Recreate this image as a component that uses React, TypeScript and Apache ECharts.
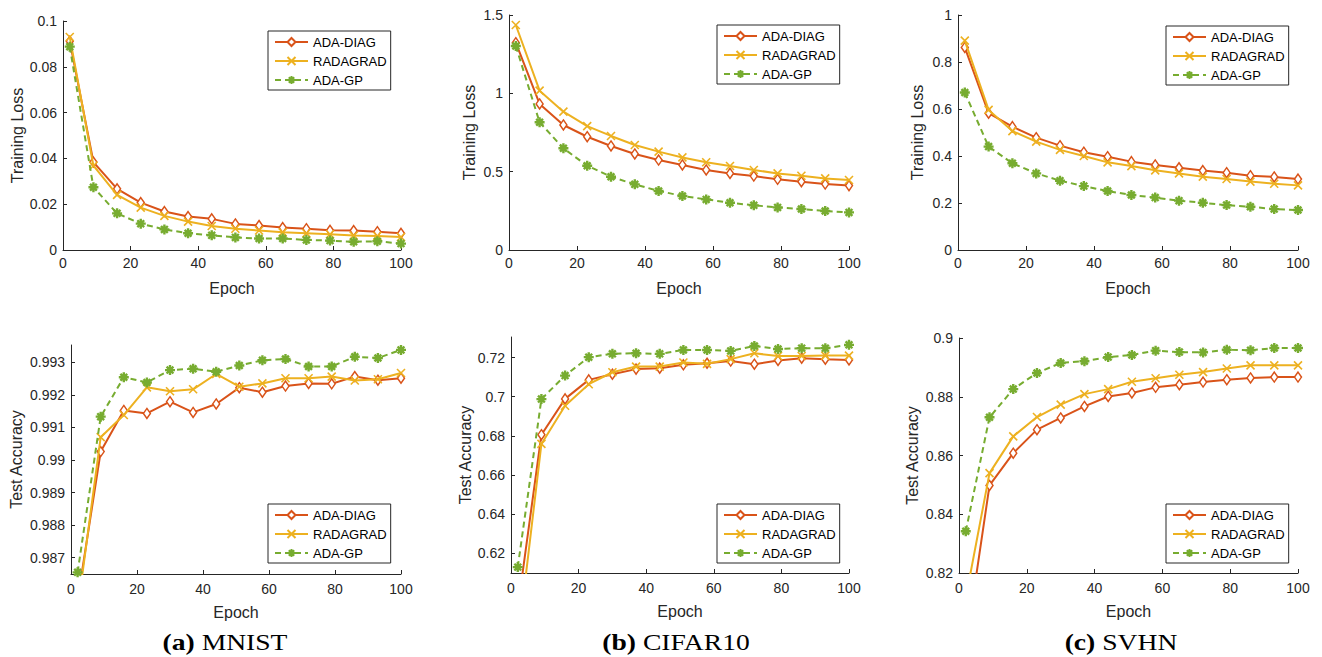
import React, { useEffect, useRef } from 'react';
import * as echarts from 'echarts';

// ---------- data ----------
const epochs = [2, 9, 16, 23, 30, 37, 44, 51, 58, 65, 72, 79, 86, 93, 100];
const legendNames = ['ADA-DIAG', 'RADAGRAD', 'ADA-GP'];
const epochTicks = [0, 20, 40, 60, 80, 100];

// (a) MNIST
const mnistLossDiag = [0.0912, 0.0384, 0.0267, 0.0207, 0.0168, 0.0146, 0.0136, 0.0114, 0.0107, 0.0098, 0.0093, 0.0086, 0.0085, 0.008, 0.0073];
const mnistLossRad = [0.093, 0.0368, 0.0241, 0.0185, 0.0149, 0.0124, 0.0105, 0.0093, 0.0085, 0.0077, 0.0073, 0.0069, 0.0063, 0.0061, 0.0057];
const mnistLossGp = [0.0888, 0.0274, 0.016, 0.0115, 0.009, 0.0073, 0.0064, 0.0055, 0.005, 0.005, 0.0044, 0.0041, 0.0036, 0.0038, 0.0028];
const mnistAccDiag = [0.9857, 0.99026, 0.99152, 0.99143, 0.99179, 0.99146, 0.99172, 0.99222, 0.99208, 0.99227, 0.99235, 0.99234, 0.99256, 0.99245, 0.99251];
const mnistAccRad = [0.9854, 0.9907, 0.99138, 0.99223, 0.99211, 0.99217, 0.99264, 0.99225, 0.99235, 0.99251, 0.99251, 0.99256, 0.99244, 0.99248, 0.99267];
const mnistAccGp = [0.98655, 0.99133, 0.99254, 0.99238, 0.99276, 0.9928, 0.99271, 0.9929, 0.99306, 0.9931, 0.99287, 0.99287, 0.99317, 0.99313, 0.99338];

// (b) CIFAR10
const cifarLossDiag = [1.323, 0.932, 0.798, 0.723, 0.664, 0.613, 0.574, 0.543, 0.511, 0.489, 0.472, 0.451, 0.436, 0.421, 0.411];
const cifarLossRad = [1.436, 1.017, 0.883, 0.791, 0.728, 0.67, 0.628, 0.591, 0.56, 0.536, 0.511, 0.489, 0.474, 0.457, 0.447];
const cifarLossGp = [1.302, 0.815, 0.649, 0.538, 0.468, 0.419, 0.377, 0.345, 0.323, 0.302, 0.285, 0.272, 0.262, 0.249, 0.24];
const cifarAccDiag = [0.592, 0.6806, 0.6989, 0.7086, 0.7115, 0.7141, 0.7146, 0.7163, 0.7171, 0.7182, 0.7166, 0.7185, 0.7197, 0.7192, 0.7188];
const cifarAccRad = [0.574, 0.6759, 0.6954, 0.7064, 0.7125, 0.7154, 0.7154, 0.7175, 0.7168, 0.7192, 0.7222, 0.7208, 0.7208, 0.721, 0.721];
const cifarAccGp = [0.613, 0.6988, 0.7108, 0.7202, 0.7219, 0.7222, 0.7219, 0.7239, 0.7239, 0.7234, 0.7259, 0.7244, 0.7248, 0.7248, 0.7265];

// (c) SVHN
const svhnLossDiag = [0.862, 0.582, 0.525, 0.478, 0.444, 0.416, 0.397, 0.376, 0.362, 0.35, 0.338, 0.329, 0.316, 0.311, 0.302];
const svhnLossRad = [0.891, 0.596, 0.506, 0.461, 0.426, 0.4, 0.373, 0.357, 0.339, 0.326, 0.312, 0.302, 0.291, 0.282, 0.275];
const svhnLossGp = [0.67, 0.44, 0.369, 0.326, 0.295, 0.272, 0.251, 0.234, 0.223, 0.21, 0.201, 0.191, 0.184, 0.174, 0.17];
const svhnAccDiag = [0.795, 0.8498, 0.8608, 0.8688, 0.8728, 0.8767, 0.8801, 0.8813, 0.8832, 0.8841, 0.885, 0.8858, 0.8864, 0.8867, 0.8867];
const svhnAccRad = [0.8115, 0.854, 0.8665, 0.8731, 0.8773, 0.8809, 0.8826, 0.8851, 0.8863, 0.8875, 0.8884, 0.8896, 0.8907, 0.8907, 0.8907];
const svhnAccGp = [0.8342, 0.873, 0.8826, 0.8881, 0.8915, 0.8921, 0.8935, 0.8942, 0.8957, 0.8952, 0.8951, 0.896, 0.8958, 0.8966, 0.8966];

// tick labels
const mnistLossTicks = [0, 0.02, 0.04, 0.06, 0.08, 0.1];
const cifarLossTicks = [0, 0.5, 1, 1.5];
const svhnLossTicks = [0, 0.2, 0.4, 0.6, 0.8, 1];
const mnistAccTicks = [0.987, 0.988, 0.989, 0.99, 0.991, 0.992, 0.993];
const cifarAccTicks = [0.62, 0.64, 0.66, 0.68, 0.7, 0.72];
const svhnAccTicks = [0.82, 0.84, 0.86, 0.88, 0.9];

const captions = ['(a)', '(b)', '(c)'];
const datasetNames = ['MNIST', 'CIFAR10', 'SVHN'];

// ---------- layout / style ----------
const FONT = 'Liberation Sans, Arial, Helvetica, sans-serif';
const AX = '#262626';
const COLORS = ['#D95319', '#EDB120', '#77AC30'];

const panels = [
  { grid: { left: 63, top: 21, width: 338, height: 229 }, yMin: 0, yMax: 0.1, ticks: mnistLossTicks, yName: 'Training Loss', nameGap: 38, legend: { left: 268, top: 31 }, data: [mnistLossDiag, mnistLossRad, mnistLossGp] },
  { grid: { left: 509, top: 15, width: 340, height: 235 }, yMin: 0, yMax: 1.5, ticks: cifarLossTicks, yName: 'Training Loss', nameGap: 32, legend: { left: 717, top: 25 }, data: [cifarLossDiag, cifarLossRad, cifarLossGp] },
  { grid: { left: 958, top: 15, width: 340, height: 235 }, yMin: 0, yMax: 1, ticks: svhnLossTicks, yName: 'Training Loss', nameGap: 33, legend: { left: 1166, top: 26 }, data: [svhnLossDiag, svhnLossRad, svhnLossGp] },
  { grid: { left: 71, top: 345, width: 330, height: 229 }, yMin: 0.9865, yMax: 0.99353, ticks: mnistAccTicks, yName: 'Test Accuracy', nameGap: 47, legend: { left: 268, top: 504 }, data: [mnistAccDiag, mnistAccRad, mnistAccGp] },
  { grid: { left: 511, top: 337, width: 338, height: 236 }, yMin: 0.61, yMax: 0.7305, ticks: cifarAccTicks, yName: 'Test Accuracy', nameGap: 38, legend: { left: 717, top: 504 }, data: [cifarAccDiag, cifarAccRad, cifarAccGp] },
  { grid: { left: 959, top: 338, width: 339, height: 235 }, yMin: 0.82, yMax: 0.9, ticks: svhnAccTicks, yName: 'Test Accuracy', nameGap: 39, legend: { left: 1166, top: 504 }, data: [svhnAccDiag, svhnAccRad, svhnAccGp] },
];

const captionCenters = [225, 676, 1121];

const fmt = (v: number) => String(parseFloat(Number(v).toFixed(6)));

const X_PATH = 'path://M0,0L10,10M10,0L0,10';
const STAR_PATH = 'path://M5,0L5,10M0,5L10,5M1.6,1.6L8.4,8.4M8.4,1.6L1.6,8.4';

function seriesStyle(k: number) {
  if (k === 0) {
    return {
      symbol: 'diamond',
      symbolSize: [7, 10],
      lineStyle: { color: COLORS[0], width: 2 },
      itemStyle: { color: '#ffffff', borderColor: COLORS[0], borderWidth: 1.5 },
    };
  }
  if (k === 1) {
    return {
      symbol: X_PATH,
      symbolSize: 8,
      lineStyle: { color: COLORS[1], width: 2 },
      itemStyle: { color: COLORS[1], borderColor: COLORS[1], borderWidth: 1.6 },
    };
  }
  return {
    symbol: STAR_PATH,
    symbolSize: 10,
    lineStyle: { color: COLORS[2], width: 2, type: [6, 4] },
    itemStyle: { color: COLORS[2], borderColor: COLORS[2], borderWidth: 2.4 },
  };
}

export default function App() {
  const ref = useRef<HTMLDivElement>(null);

  useEffect(() => {
    if (!ref.current) return;
    const chart = echarts.init(ref.current, null, { renderer: 'svg' });

    const grid: any[] = [];
    const xAxis: any[] = [];
    const yAxis: any[] = [];
    const legend: any[] = [];
    const series: any[] = [];

    panels.forEach((p, i) => {
      grid.push({ ...p.grid, containLabel: false, outerBoundsMode: 'none' });
      xAxis.push({
        gridIndex: i,
        type: 'value',
        min: 0,
        max: 100,
        interval: 20,
        name: 'Epoch',
        nameLocation: 'middle',
        nameGap: 30,
        nameTextStyle: { fontFamily: FONT, fontSize: 16, color: AX },
        axisLine: { show: true, onZero: false, lineStyle: { color: AX, width: 1 } },
        axisTick: { show: true, inside: true, length: 4, lineStyle: { color: AX }, customValues: epochTicks },
        axisLabel: { fontFamily: FONT, fontSize: 14, color: AX, margin: i < 3 ? 6 : 8, formatter: fmt, customValues: epochTicks },
        splitLine: { show: false },
      });
      const step = p.ticks[1] - p.ticks[0];
      yAxis.push({
        gridIndex: i,
        type: 'value',
        min: p.yMin,
        max: p.yMax,
        minInterval: step,
        maxInterval: step,
        name: p.yName,
        nameLocation: 'middle',
        nameGap: p.nameGap,
        nameTextStyle: { fontFamily: FONT, fontSize: 16, color: AX },
        axisLine: { show: true, onZero: false, lineStyle: { color: AX, width: 1 } },
        axisTick: { show: true, inside: true, length: 4, lineStyle: { color: AX }, customValues: p.ticks },
        axisLabel: {
          fontFamily: FONT,
          fontSize: 14,
          color: AX,
          margin: 6,
          customValues: p.ticks,
          formatter: (v: number) => {
            const r = v / step;
            return Math.abs(r - Math.round(r)) < 1e-6 ? fmt(v) : '';
          },
        },
        splitLine: { show: false },
      });
      legend.push({
        data: legendNames,
        orient: 'vertical',
        left: p.legend.left,
        top: p.legend.top,
        itemWidth: 33,
        itemHeight: 10,
        itemGap: 5,
        padding: [4, 4, 3, 6],
        backgroundColor: '#ffffff',
        borderColor: AX,
        borderWidth: 1,
        borderRadius: 0,
        selectedMode: false,
        textStyle: { fontFamily: FONT, fontSize: 13, color: '#000000', lineHeight: 14 },
      });
      p.data.forEach((arr, k) => {
        series.push({
          name: legendNames[k],
          type: 'line',
          xAxisIndex: i,
          yAxisIndex: i,
          clip: true,
          showSymbol: true,
          data: epochs.map((e, j) => [e, arr[j]]),
          ...seriesStyle(k),
          z: 2 + k,
        });
      });
    });

    const graphic = captions.map((c, i) => ({
      type: 'text',
      x: captionCenters[i],
      y: 642,
      scaleX: 1.2,
      style: {
        text: '{b|' + c + '} ' + datasetNames[i],
        fontFamily: 'Liberation Serif, Times New Roman, serif',
        fontSize: 23,
        fill: '#000000',
        align: 'center',
        verticalAlign: 'middle',
        rich: {
          b: { fontFamily: 'Liberation Serif, Times New Roman, serif', fontSize: 23, fontWeight: 'bold', fill: '#000000' },
        },
      },
    }));

    chart.setOption({
      animation: false,
      backgroundColor: '#ffffff',
      grid,
      xAxis,
      yAxis,
      legend,
      series,
      graphic,
    });

    return () => chart.dispose();
  }, []);

  return (
    <div
      ref={ref}
      style={{ position: 'absolute', left: 0, top: 0, width: 1322, height: 657 }}
    />
  );
}
